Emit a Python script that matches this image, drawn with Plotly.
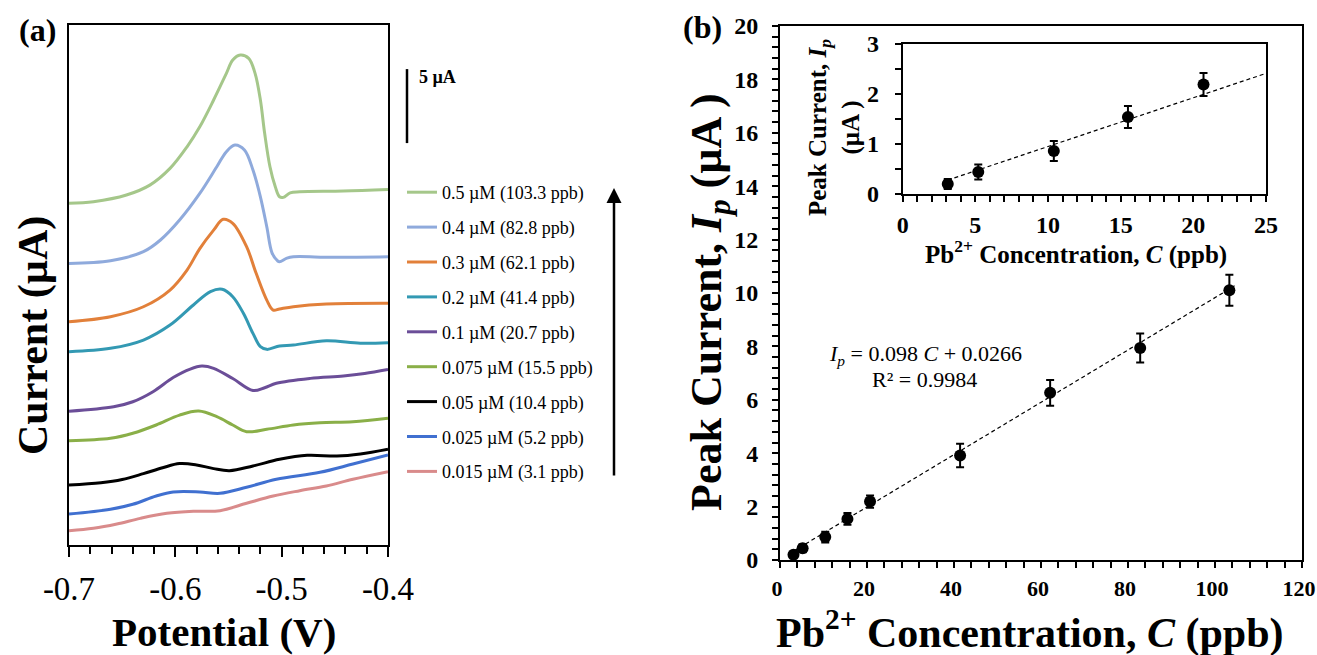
import plotly.graph_objects as go

W, H = 1317, 655
FONT = "Liberation Serif"


def px(x):
    return x / W


def py(y):
    return 1 - y / H


# ---------------- Panel (a): DPV curves (potential in V, current in µA, offset for display)
labels_a = ["0.5 µM (103.3 ppb)", "0.4 µM (82.8 ppb)", "0.3 µM (62.1 ppb)",
            "0.2 µM (41.4 ppb)", "0.1 µM (20.7 ppb)", "0.075 µM (15.5 ppb)",
            "0.05 µM (10.4 ppb)", "0.025 µM (5.2 ppb)", "0.015 µM (3.1 ppb)"]
colors_a = ["#A5C78A", "#8FAADC", "#E2803A", "#3399B3", "#6B4E98",
            "#8AAF48", "#000000", "#4070D0", "#D98B8B"]

E_050 = [-0.700, -0.677, -0.646, -0.624, -0.605, -0.589, -0.577, -0.564, -0.552, -0.546, -0.539, -0.531,
         -0.525, -0.520, -0.516, -0.511, -0.506, -0.502, -0.4985, -0.492, -0.483, -0.442, -0.400]
I_050 = [23.09, 23.20, 23.65, 24.32, 25.45, 26.91, 28.26, 30.07, 31.87, 32.77, 33.11, 32.89,
         31.87, 30.07, 27.82, 25.56, 24.21, 23.53, 23.49, 23.80, 23.87, 23.92, 24.03]

E_040 = [-0.700, -0.661, -0.630, -0.614, -0.596, -0.577, -0.561, -0.552, -0.544, -0.535, -0.527, -0.520,
         -0.514, -0.509, -0.504, -0.502, -0.495, -0.489, -0.452, -0.400]
I_040 = [19.03, 19.21, 19.82, 20.61, 21.96, 23.76, 25.56, 26.58, 27.03, 26.69, 25.34, 23.53,
         21.51, 19.73, 19.21, 19.14, 19.39, 19.48, 19.44, 19.48]

E_030 = [-0.700, -0.661, -0.630, -0.605, -0.589, -0.577, -0.564, -0.555, -0.546, -0.533, -0.524, -0.514,
         -0.508, -0.502, -0.489, -0.458, -0.400]
I_030 = [15.09, 15.43, 16.10, 17.23, 18.58, 20.03, 21.28, 22.01, 21.74, 20.16, 18.36, 16.55,
         15.88, 15.95, 16.10, 16.28, 16.33]

E_020 = [-0.700, -0.661, -0.630, -0.605, -0.583, -0.567, -0.556, -0.546, -0.536, -0.527, -0.520, -0.514,
         -0.502, -0.489, -0.458, -0.426, -0.400]
I_020 = [13.06, 13.29, 13.85, 14.86, 16.22, 17.12, 17.28, 16.78, 15.66, 14.30, 13.40, 13.22,
         13.45, 13.51, 13.80, 13.63, 13.67]

E_010 = [-0.700, -0.658, -0.640, -0.621, -0.602, -0.586, -0.575, -0.564, -0.546, -0.527, -0.516, -0.505,
         -0.473, -0.442, -0.422, -0.400]
I_010 = [9.04, 9.34, 9.68, 10.36, 11.32, 11.89, 12.09, 11.94, 11.25, 10.44, 10.63, 10.93,
         11.26, 11.42, 11.59, 11.86]

E_0075 = [-0.700, -0.661, -0.640, -0.618, -0.596, -0.578, -0.561, -0.546, -0.533, -0.514, -0.489, -0.464,
          -0.433, -0.400]
I_0075 = [7.05, 7.21, 7.55, 8.11, 8.78, 9.05, 8.67, 8.11, 7.66, 7.82, 8.11, 8.26,
          8.33, 8.56]

E_005 = [-0.700, -0.670, -0.650, -0.630, -0.612, -0.596, -0.580, -0.564, -0.549, -0.527, -0.502, -0.476,
         -0.448, -0.426, -0.400]
I_005 = [4.05, 4.20, 4.42, 4.82, 5.22, 5.50, 5.41, 5.16, 5.02, 5.34, 5.79, 6.06,
         6.01, 6.15, 6.47]

E_0025 = [-0.700, -0.661, -0.640, -0.618, -0.602, -0.577, -0.558, -0.533, -0.505, -0.464, -0.433, -0.400]
I_0025 = [2.09, 2.41, 2.75, 3.31, 3.58, 3.58, 3.49, 3.90, 4.44, 4.91, 5.47, 6.08]

E_0015 = [-0.700, -0.677, -0.655, -0.633, -0.608, -0.583, -0.558, -0.533, -0.508, -0.483, -0.458, -0.433, -0.400]
I_0015 = [0.97, 1.13, 1.42, 1.80, 2.14, 2.28, 2.32, 2.82, 3.31, 3.67, 3.99, 4.44, 4.95]

curves_E = [E_050, E_040, E_030, E_020, E_010, E_0075, E_005, E_0025, E_0015]
curves_I = [I_050, I_040, I_030, I_020, I_010, I_0075, I_005, I_0025, I_0015]

scale_bar_uA = 5.0
scale_bar_base = 27.16

# ---------------- Panel (b): calibration
conc_ppb = [3.1, 5.2, 10.4, 15.5, 20.7, 41.4, 62.1, 82.8, 103.3]
peak_uA = [0.20, 0.44, 0.86, 1.54, 2.19, 3.91, 6.26, 7.94, 10.10]
peak_err = [0.10, 0.15, 0.20, 0.22, 0.23, 0.44, 0.48, 0.54, 0.58]

fit_slope, fit_intercept = 0.098, 0.0266
fit_span = [3.1, 104.5]
inset_slope, inset_intercept = 0.0975, -0.025
inset_span = [3.1, 25.0]
n_inset = 5

fig = go.Figure()

for lab, col, E, I in zip(labels_a, colors_a, curves_E, curves_I):
    fig.add_trace(go.Scatter(x=E, y=I, mode="lines", name=lab, legendgroup=lab,
                             line=dict(color=col, width=3, shape="spline", smoothing=1.0),
                             xaxis="x", yaxis="y", showlegend=True))

err_style = dict(type="data", visible=True, color="black", thickness=2, width=4)
dash_style = dict(color="black", width=1.2, dash="4px,3px")

fig.add_trace(go.Scatter(x=fit_span, y=[fit_slope * c + fit_intercept for c in fit_span],
                         mode="lines", line=dash_style,
                         xaxis="x2", yaxis="y2", showlegend=False))
fig.add_trace(go.Scatter(x=conc_ppb, y=peak_uA, mode="markers",
                         marker=dict(color="black", size=12),
                         error_y=dict(array=peak_err, **err_style),
                         xaxis="x2", yaxis="y2", showlegend=False))

fig.add_trace(go.Scatter(x=inset_span, y=[inset_slope * c + inset_intercept for c in inset_span],
                         mode="lines", line=dash_style,
                         xaxis="x3", yaxis="y3", showlegend=False))
fig.add_trace(go.Scatter(x=conc_ppb[:n_inset], y=peak_uA[:n_inset], mode="markers",
                         marker=dict(color="black", size=12),
                         error_y=dict(array=peak_err[:n_inset], **err_style),
                         xaxis="x3", yaxis="y3", showlegend=False))

axis_common = dict(showline=True, linecolor="black", linewidth=2, mirror=True,
                   showgrid=False, zeroline=False, ticks="outside", tickcolor="black",
                   tickwidth=2, automargin=False, ticklabeloverflow="allow")

bold_tick = dict(family=FONT, size=24, color="black", weight="bold")
bold_tick_x = dict(family=FONT, size=22, color="black", weight="bold")

fig.update_layout(
    width=W, height=H,
    margin=dict(l=0, r=0, t=0, b=0, pad=0, autoexpand=False),
    paper_bgcolor="white", plot_bgcolor="white",
    font=dict(family=FONT, color="black"),
    xaxis=dict(domain=[px(69), px(388)], range=[-0.7, -0.4], anchor="y",
               tickvals=[-0.7, -0.6, -0.5, -0.4], ticktext=["-0.7", "-0.6", "-0.5", "-0.4"],
               ticklen=10, ticklabelstandoff=3,
               tickfont=dict(family=FONT, size=33, color="black"),
               minor=dict(dtick=0.02, tick0=-0.7, ticks="outside", ticklen=7,
                          tickwidth=2, tickcolor="black", showgrid=False),
               **axis_common),
    yaxis=dict(domain=[py(545), py(25)], range=[0, 35.14], anchor="x",
               showline=True, linecolor="black", linewidth=2, mirror=True, automargin=False,
               showgrid=False, zeroline=False, ticks="", showticklabels=False),
    xaxis2=dict(domain=[px(780), px(1302)], range=[0, 120], anchor="y2", dtick=20,
                ticklen=6, ticklabelstandoff=2, ticklabelshift=-3, tickfont=bold_tick_x,
                minor=dict(dtick=4, ticks="outside", ticklen=6, tickwidth=2,
                           tickcolor="black", showgrid=False),
                **axis_common),
    yaxis2=dict(domain=[py(560), py(26)], range=[0, 20], anchor="x2", dtick=2,
                ticklen=6, ticklabelstandoff=9, tickfont=bold_tick,
                minor=dict(dtick=0.4, ticks="outside", ticklen=6, tickwidth=2,
                           tickcolor="black", showgrid=False),
                **axis_common),
    xaxis3=dict(domain=[px(902.7), px(1266)], range=[0, 25], anchor="y3", dtick=5,
                ticklen=6, ticklabelstandoff=2, tickfont=bold_tick,
                minor=dict(dtick=1, ticks="outside", ticklen=6, tickwidth=2,
                           tickcolor="black", showgrid=False),
                **axis_common),
    yaxis3=dict(domain=[py(194), py(44)], range=[0, 3], anchor="x3", dtick=1,
                ticklen=6, ticklabelstandoff=11, tickfont=bold_tick,
                minor=dict(dtick=0.5, ticks="outside", ticklen=6, tickwidth=2,
                           tickcolor="black", showgrid=False),
                **axis_common),
    legend=dict(x=px(402), y=py(174), xanchor="left", yanchor="top",
                traceorder="grouped", tracegroupgap=8.5,
                font=dict(family=FONT, size=18, color="black"),
                bgcolor="rgba(0,0,0,0)", itemwidth=30),
)

# scale bar in panel (a)
fig.add_shape(type="line", xref="paper", yref="y", x0=px(407), x1=px(407),
              y0=scale_bar_base, y1=scale_bar_base + scale_bar_uA,
              line=dict(color="black", width=2.5))

annotations = [
    dict(text="5 µA", x=px(417), y=py(77), xanchor="left", yanchor="middle",
         font=dict(size=18, weight="bold")),
    dict(text="(a)", x=px(37), y=py(30), font=dict(size=32, weight="bold")),
    dict(text="(b)", x=px(703), y=py(27), font=dict(size=32, weight="bold")),
    dict(text="Potential (V)", x=px(224), y=py(632), font=dict(size=41, weight="bold")),
    dict(text="Current (µA)", x=px(33), y=py(336), textangle=-90, font=dict(size=42, weight="bold")),
    dict(text="Pb<sup>2+</sup> Concentration, <i>C</i> (ppb)", x=px(1030), y=py(630),
         font=dict(size=42, weight="bold")),
    dict(text="Peak Current, <i>I<sub>p</sub></i> (µA )", x=px(709), y=py(302), textangle=-90,
         font=dict(size=44, weight="bold")),
    dict(text="Pb<sup>2+</sup> Concentration, <i>C</i> (ppb)", x=px(1076), y=py(253),
         font=dict(size=25, weight="bold")),
    dict(text="Peak Current, <i>I<sub>p</sub></i><br>(µA )", x=px(835), y=py(128), textangle=-90,
         font=dict(size=25, weight="bold")),
    dict(text="<i>I<sub>p</sub></i> = 0.098 <i>C</i> + 0.0266", x=px(925), y=py(355),
         font=dict(size=22)),
    dict(text="R² = 0.9984", x=px(924), y=py(379), font=dict(size=22)),
]
for a in annotations:
    a.setdefault("xref", "paper")
    a.setdefault("yref", "paper")
    a.setdefault("showarrow", False)
    a.setdefault("xanchor", "center")
    a.setdefault("yanchor", "middle")
    a["font"] = dict(family=FONT, color="black", **a["font"])
    fig.add_annotation(**a)

# concentration arrow next to the legend
fig.add_annotation(x=px(614), y=py(188), xref="paper", yref="paper", text="",
                   showarrow=True, ax=0, ay=289, axref="pixel", ayref="pixel",
                   arrowhead=2, arrowsize=1.2, arrowwidth=2.5, arrowcolor="black")

fig.write_html("out.html", config={"displayModeBar": False},
               post_script="document.body.style.margin='0';")
